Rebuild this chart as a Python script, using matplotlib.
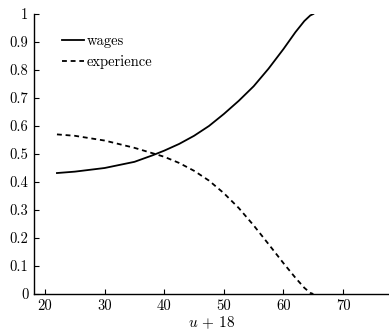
import numpy as np
import matplotlib
matplotlib.use('Agg')
import matplotlib.pyplot as plt

plt.rcParams['font.family'] = 'serif'
plt.rcParams['font.serif'] = ['cmr10']
plt.rcParams['mathtext.fontset'] = 'cm'
plt.rcParams['axes.formatter.use_mathtext'] = True

# values
age = [22, 25, 30, 35, 38, 40, 42.5, 45, 47.5, 50, 52.5, 55, 57.5, 60, 62, 63.5, 64.5, 65]
wages = [0.432, 0.437, 0.450, 0.472, 0.495, 0.512, 0.536, 0.565, 0.600, 0.643, 0.690, 0.742, 0.805, 0.875, 0.935, 0.975, 0.995, 1.0]
experience = [0.570, 0.565, 0.548, 0.522, 0.503, 0.490, 0.468, 0.440, 0.405, 0.360, 0.307, 0.245, 0.178, 0.110, 0.058, 0.022, 0.004, 0.0]

yticks = [0, 0.1, 0.2, 0.3, 0.4, 0.5, 0.6, 0.7, 0.8, 0.9, 1]
ylabels = ['0', '0.1', '0.2', '0.3', '0.4', '0.5', '0.6', '0.7', '0.8', '0.9', '1']
xticks = [20, 30, 40, 50, 60, 70]

fig = plt.figure(figsize=(3.89, 3.30), dpi=100)
ax = fig.add_axes([34 / 389, 36 / 330, 355 / 389, 280 / 330])

ax.plot(age, wages, 'k-', lw=1.3, label='wages')
ax.plot(age, experience, 'k--', lw=1.3, dashes=(2.7, 2.1), label='experience')

ax.set_xlim(18.15, 77.7)
ax.set_ylim(0, 1)
ax.set_xticks(xticks)
ax.set_xticklabels([str(t) for t in xticks])
ax.set_yticks(yticks)
ax.set_yticklabels(ylabels)
ax.tick_params(direction='in', length=3.5, width=0.8, labelsize=10.5, pad=4)
ax.set_xlabel(r'$u\,+\,18$', fontsize=11, labelpad=1)

for s in ['top', 'right']:
    ax.spines[s].set_visible(False)
for s in ['left', 'bottom']:
    ax.spines[s].set_linewidth(1.0)

ax.legend(loc='center left', bbox_to_anchor=(0.079, 0.865), frameon=False, fontsize=10.5,
          handlelength=1.5, handletextpad=0.2, labelspacing=0.45, borderaxespad=0,
          borderpad=0)

fig.savefig('out.png', dpi=100)
